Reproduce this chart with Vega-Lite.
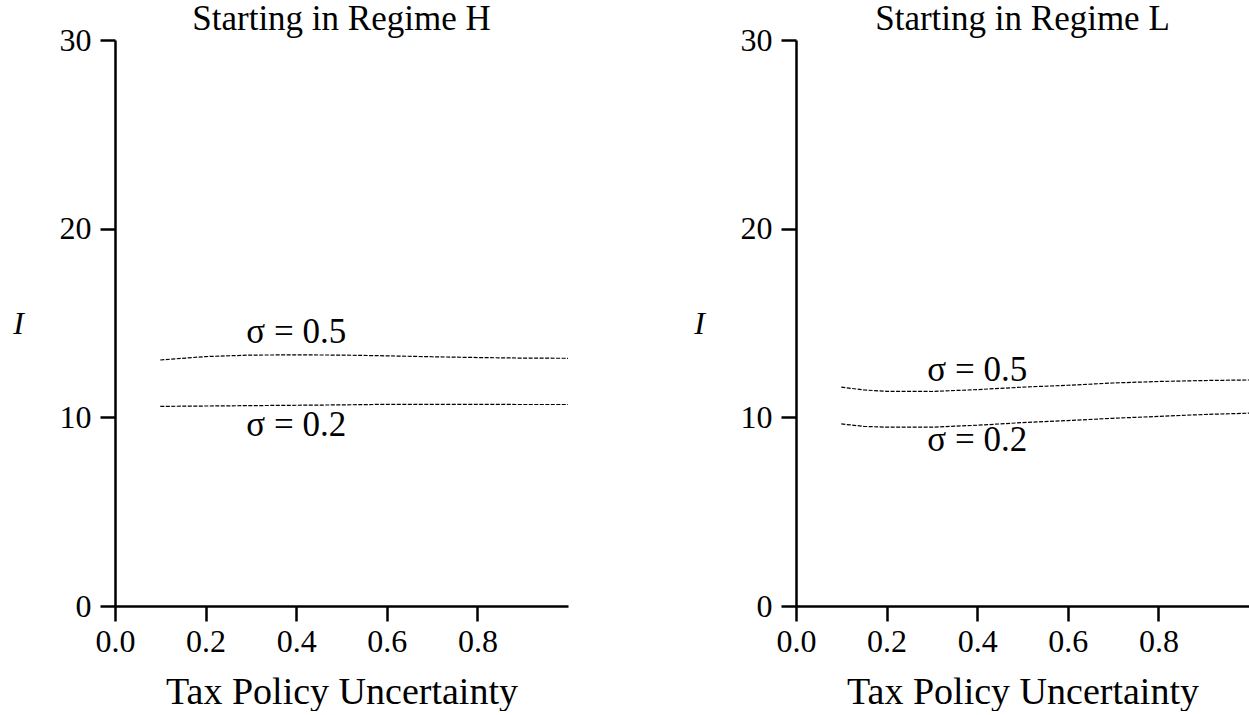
{
  "$schema": "https://vega.github.io/schema/vega-lite/v6.json",
  "padding": {"left": 12, "top": 2, "right": 0, "bottom": 0},
  "background": "white",
  "config": {
    "font": "Liberation Serif",
    "view": {"stroke": null},
    "axis": {
      "grid": false,
      "domainColor": "black",
      "domainWidth": 2.5,
      "tickColor": "black",
      "tickWidth": 2.5,
      "tickSize": 15,
      "labelFont": "Liberation Serif",
      "labelFontSize": 32,
      "labelColor": "black",
      "labelFlush": false,
      "titleFont": "Liberation Serif",
      "titleFontSize": 32,
      "titleFontWeight": "normal",
      "titleColor": "black",
      "labelPadding": 5
    },
    "axisY": {"labelPadding": 9},
    "title": {"font": "Liberation Serif", "fontSize": 35, "fontWeight": "normal", "color": "black", "offset": -13, "frame": "group"}
  },
  "datasets": {
    "lines": [
      {"panel": "H", "sigma": "0.5", "tpu": 0.1, "I": 13.04},
      {"panel": "H", "sigma": "0.5", "tpu": 0.2, "I": 13.22},
      {"panel": "H", "sigma": "0.5", "tpu": 0.3, "I": 13.3},
      {"panel": "H", "sigma": "0.5", "tpu": 0.4, "I": 13.31},
      {"panel": "H", "sigma": "0.5", "tpu": 0.5, "I": 13.3},
      {"panel": "H", "sigma": "0.5", "tpu": 0.6, "I": 13.26},
      {"panel": "H", "sigma": "0.5", "tpu": 0.7, "I": 13.21},
      {"panel": "H", "sigma": "0.5", "tpu": 0.8, "I": 13.17},
      {"panel": "H", "sigma": "0.5", "tpu": 0.9, "I": 13.14},
      {"panel": "H", "sigma": "0.5", "tpu": 1.0, "I": 13.13},
      {"panel": "H", "sigma": "0.2", "tpu": 0.1, "I": 10.58},
      {"panel": "H", "sigma": "0.2", "tpu": 0.2, "I": 10.6},
      {"panel": "H", "sigma": "0.2", "tpu": 0.3, "I": 10.62},
      {"panel": "H", "sigma": "0.2", "tpu": 0.4, "I": 10.64},
      {"panel": "H", "sigma": "0.2", "tpu": 0.5, "I": 10.66},
      {"panel": "H", "sigma": "0.2", "tpu": 0.6, "I": 10.69},
      {"panel": "H", "sigma": "0.2", "tpu": 0.7, "I": 10.69},
      {"panel": "H", "sigma": "0.2", "tpu": 0.8, "I": 10.69},
      {"panel": "H", "sigma": "0.2", "tpu": 0.9, "I": 10.68},
      {"panel": "H", "sigma": "0.2", "tpu": 1.0, "I": 10.68},
      {"panel": "L", "sigma": "0.5", "tpu": 0.1, "I": 11.6},
      {"panel": "L", "sigma": "0.5", "tpu": 0.15, "I": 11.45},
      {"panel": "L", "sigma": "0.5", "tpu": 0.2, "I": 11.38},
      {"panel": "L", "sigma": "0.5", "tpu": 0.3, "I": 11.37},
      {"panel": "L", "sigma": "0.5", "tpu": 0.4, "I": 11.47},
      {"panel": "L", "sigma": "0.5", "tpu": 0.5, "I": 11.6},
      {"panel": "L", "sigma": "0.5", "tpu": 0.6, "I": 11.7},
      {"panel": "L", "sigma": "0.5", "tpu": 0.7, "I": 11.82},
      {"panel": "L", "sigma": "0.5", "tpu": 0.8, "I": 11.9},
      {"panel": "L", "sigma": "0.5", "tpu": 0.9, "I": 11.95},
      {"panel": "L", "sigma": "0.5", "tpu": 1.0, "I": 11.98},
      {"panel": "L", "sigma": "0.2", "tpu": 0.1, "I": 9.65},
      {"panel": "L", "sigma": "0.2", "tpu": 0.15, "I": 9.52},
      {"panel": "L", "sigma": "0.2", "tpu": 0.2, "I": 9.48},
      {"panel": "L", "sigma": "0.2", "tpu": 0.3, "I": 9.48},
      {"panel": "L", "sigma": "0.2", "tpu": 0.4, "I": 9.58},
      {"panel": "L", "sigma": "0.2", "tpu": 0.5, "I": 9.72},
      {"panel": "L", "sigma": "0.2", "tpu": 0.6, "I": 9.83},
      {"panel": "L", "sigma": "0.2", "tpu": 0.7, "I": 9.95},
      {"panel": "L", "sigma": "0.2", "tpu": 0.8, "I": 10.05},
      {"panel": "L", "sigma": "0.2", "tpu": 0.9, "I": 10.15},
      {"panel": "L", "sigma": "0.2", "tpu": 1.0, "I": 10.22}
    ],
    "labels": [
      {"panel": "H", "tpu": 0.4, "I": 14.5, "label": "σ = 0.5"},
      {"panel": "H", "tpu": 0.4, "I": 9.6, "label": "σ = 0.2"},
      {"panel": "L", "tpu": 0.4, "I": 12.5, "label": "σ = 0.5"},
      {"panel": "L", "tpu": 0.4, "I": 8.8, "label": "σ = 0.2"}
    ]
  },
  "spacing": 122,
  "hconcat": [
    {
      "width": 453,
      "height": 566,
      "title": "Starting in Regime H",
      "layer": [
        {
          "data": {"name": "lines"},
          "transform": [{"filter": "datum.panel === 'H'"}],
          "mark": {"type": "line", "color": "black", "strokeWidth": 1.2, "strokeDash": [4, 1.5]},
          "encoding": {
            "x": {"field": "tpu", "type": "quantitative", "scale": {"domain": [0, 1], "nice": false},
              "axis": {"values": [0, 0.2, 0.4, 0.6, 0.8], "format": ".1f", "title": "Tax Policy Uncertainty", "titleFontSize": 38, "titlePadding": 16}},
            "y": {"field": "I", "type": "quantitative", "scale": {"domain": [0, 30], "nice": false},
              "axis": {"values": [0, 10, 20, 30], "title": "I", "titleAngle": 0, "titleFontStyle": "italic", "titleAlign": "center", "titleBaseline": "middle", "titleX": -97, "titleY": 283}},
            "detail": {"field": "sigma"}
          }
        },
        {
          "data": {"name": "labels"},
          "transform": [{"filter": "datum.panel === 'H'"}],
          "mark": {"type": "text", "font": "Liberation Serif", "fontSize": 35, "color": "black"},
          "encoding": {
            "x": {"field": "tpu", "type": "quantitative"},
            "y": {"field": "I", "type": "quantitative"},
            "text": {"field": "label"}
          }
        }
      ]
    },
    {
      "width": 453,
      "height": 566,
      "title": "Starting in Regime L",
      "layer": [
        {
          "data": {"name": "lines"},
          "transform": [{"filter": "datum.panel === 'L'"}],
          "mark": {"type": "line", "color": "black", "strokeWidth": 1.2, "strokeDash": [4, 1.5]},
          "encoding": {
            "x": {"field": "tpu", "type": "quantitative", "scale": {"domain": [0, 1], "nice": false},
              "axis": {"values": [0, 0.2, 0.4, 0.6, 0.8], "format": ".1f", "title": "Tax Policy Uncertainty", "titleFontSize": 38, "titlePadding": 16}},
            "y": {"field": "I", "type": "quantitative", "scale": {"domain": [0, 30], "nice": false},
              "axis": {"values": [0, 10, 20, 30], "title": "I", "titleAngle": 0, "titleFontStyle": "italic", "titleAlign": "center", "titleBaseline": "middle", "titleX": -97, "titleY": 283}},
            "detail": {"field": "sigma"}
          }
        },
        {
          "data": {"name": "labels"},
          "transform": [{"filter": "datum.panel === 'L'"}],
          "mark": {"type": "text", "font": "Liberation Serif", "fontSize": 35, "color": "black"},
          "encoding": {
            "x": {"field": "tpu", "type": "quantitative"},
            "y": {"field": "I", "type": "quantitative"},
            "text": {"field": "label"}
          }
        }
      ]
    }
  ]
}
